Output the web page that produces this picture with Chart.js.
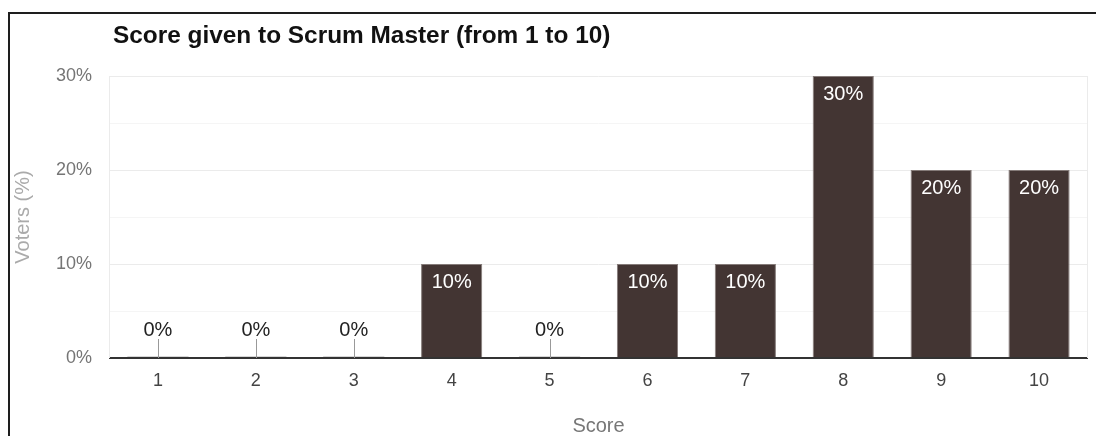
<!DOCTYPE html>
<html>
<head>
<meta charset="utf-8">
<title>Score given to Scrum Master</title>
<script src="https://cdn.jsdelivr.net/npm/chart.js@4/dist/chart.umd.min.js"></script>
<style>
  html, body { margin: 0; padding: 0; background: #fff; overflow: hidden; }
  #wrap { position: relative; width: 1096px; height: 436px; }
  #frame {
    position: absolute; left: 8px; top: 12px; width: 2000px; height: 1000px;
    border-top: 2px solid #1e1e1e; border-left: 2px solid #1e1e1e;
    pointer-events: none;
  }
  canvas { position: absolute; left: 0; top: 0; }
</style>
</head>
<body>
<div id="wrap">
  <canvas id="scoreChart" width="1096" height="436"></canvas>
  <div id="frame"></div>
</div>
<script>
// Survey results
const scores = ['1', '2', '3', '4', '5', '6', '7', '8', '9', '10'];
const voterShare = [0, 0, 0, 10, 0, 10, 10, 30, 20, 20];
const chartTitle = 'Score given to Scrum Master (from 1 to 10)';

const FONT = '"Liberation Sans", Arial, sans-serif';

// Title, aligned with the left edge of the plot
const titlePlugin = {
  id: 'leftTitle',
  afterDraw(chart) {
    const ctx = chart.ctx;
    ctx.save();
    ctx.font = 'bold 24.4px ' + FONT;
    ctx.fillStyle = '#111';
    ctx.textAlign = 'left';
    ctx.textBaseline = 'middle';
    ctx.fillText(chartTitle, chart.chartArea.left + 4, 36);
    ctx.restore();
  }
};

// Light frame on the sides of the plot area
const plotFrame = {
  id: 'plotFrame',
  beforeDatasetsDraw(chart) {
    const { ctx, chartArea: a } = chart;
    ctx.save();
    ctx.strokeStyle = '#ebebeb';
    ctx.lineWidth = 1;
    ctx.beginPath();
    ctx.moveTo(a.left + 0.5, a.top);
    ctx.lineTo(a.left + 0.5, a.bottom);
    ctx.moveTo(a.right - 0.5, a.top);
    ctx.lineTo(a.right - 0.5, a.bottom);
    ctx.stroke();
    ctx.restore();
  }
};

// Value labels: inside the bar top, or on a stem for empty bars
const valueLabels = {
  id: 'valueLabels',
  afterDatasetsDraw(chart) {
    const ctx = chart.ctx;
    const meta = chart.getDatasetMeta(0);
    const base = chart.scales.y.getPixelForValue(0);
    ctx.save();
    ctx.font = '20px ' + FONT;
    ctx.textAlign = 'center';
    ctx.textBaseline = 'middle';
    meta.data.forEach((bar, i) => {
      const v = voterShare[i];
      if (v > 0) {
        ctx.fillStyle = '#fff';
        ctx.fillText(v + '%', bar.x, bar.y + 18);
      } else {
        const half = bar.width / 2;
        ctx.strokeStyle = '#d6d6d6';
        ctx.lineWidth = 1;
        ctx.beginPath();
        ctx.moveTo(bar.x - half, base - 1.5);
        ctx.lineTo(bar.x + half, base - 1.5);
        ctx.stroke();
        ctx.strokeStyle = '#999';
        ctx.beginPath();
        ctx.moveTo(Math.round(bar.x) + 0.5, base - 19);
        ctx.lineTo(Math.round(bar.x) + 0.5, base);
        ctx.stroke();
        ctx.fillStyle = '#222';
        ctx.fillText(v + '%', bar.x, base - 28);
      }
    });
    ctx.restore();
  }
};

new Chart(document.getElementById('scoreChart'), {
  type: 'bar',
  data: {
    labels: scores,
    datasets: [{
      label: 'Voters (%)',
      data: voterShare,
      backgroundColor: '#433533',
      borderColor: '#857b79',
      borderWidth: 1,
      categoryPercentage: 1,
      barPercentage: 0.625
    }]
  },
  options: {
    responsive: false,
    devicePixelRatio: 1,
    animation: false,
    layout: { padding: { top: 76, right: 8, left: 0, bottom: 0 } },
    plugins: {
      legend: { display: false },
      tooltip: { enabled: false },
      title: { display: false }
    },
    scales: {
      x: {
        grid: { display: false, drawTicks: false },
        border: { display: false },
        ticks: {
          color: '#444',
          font: { family: FONT, size: 18 },
          padding: 12
        },
        title: {
          display: true,
          text: 'Score',
          color: '#777',
          font: { family: FONT, size: 20, lineHeight: 1 },
          padding: { top: 0, bottom: 0 }
        },
        afterFit(scale) { scale.height = 78; }
      },
      y: {
        min: 0,
        max: 30,
        border: { display: false },
        grid: {
          drawTicks: false,
          color: (c) => c.tick.value === 0 ? '#333' : (c.tick.value % 10 ? '#f5f5f5' : '#ebebeb'),
          lineWidth: (c) => c.tick.value === 0 ? 2 : 1
        },
        ticks: {
          stepSize: 5,
          color: '#757575',
          font: { family: FONT, size: 18 },
          padding: 17,
          callback: (v) => v % 10 === 0 ? v + '%' : ''
        },
        title: {
          display: true,
          text: 'Voters (%)',
          color: '#aaa',
          font: { family: FONT, size: 20 },
          padding: { top: 11, bottom: 0 }
        },
        afterFit(scale) { scale.width = 109; }
      }
    }
  },
  plugins: [plotFrame, valueLabels, titlePlugin]
});
</script>
</body>
</html>
